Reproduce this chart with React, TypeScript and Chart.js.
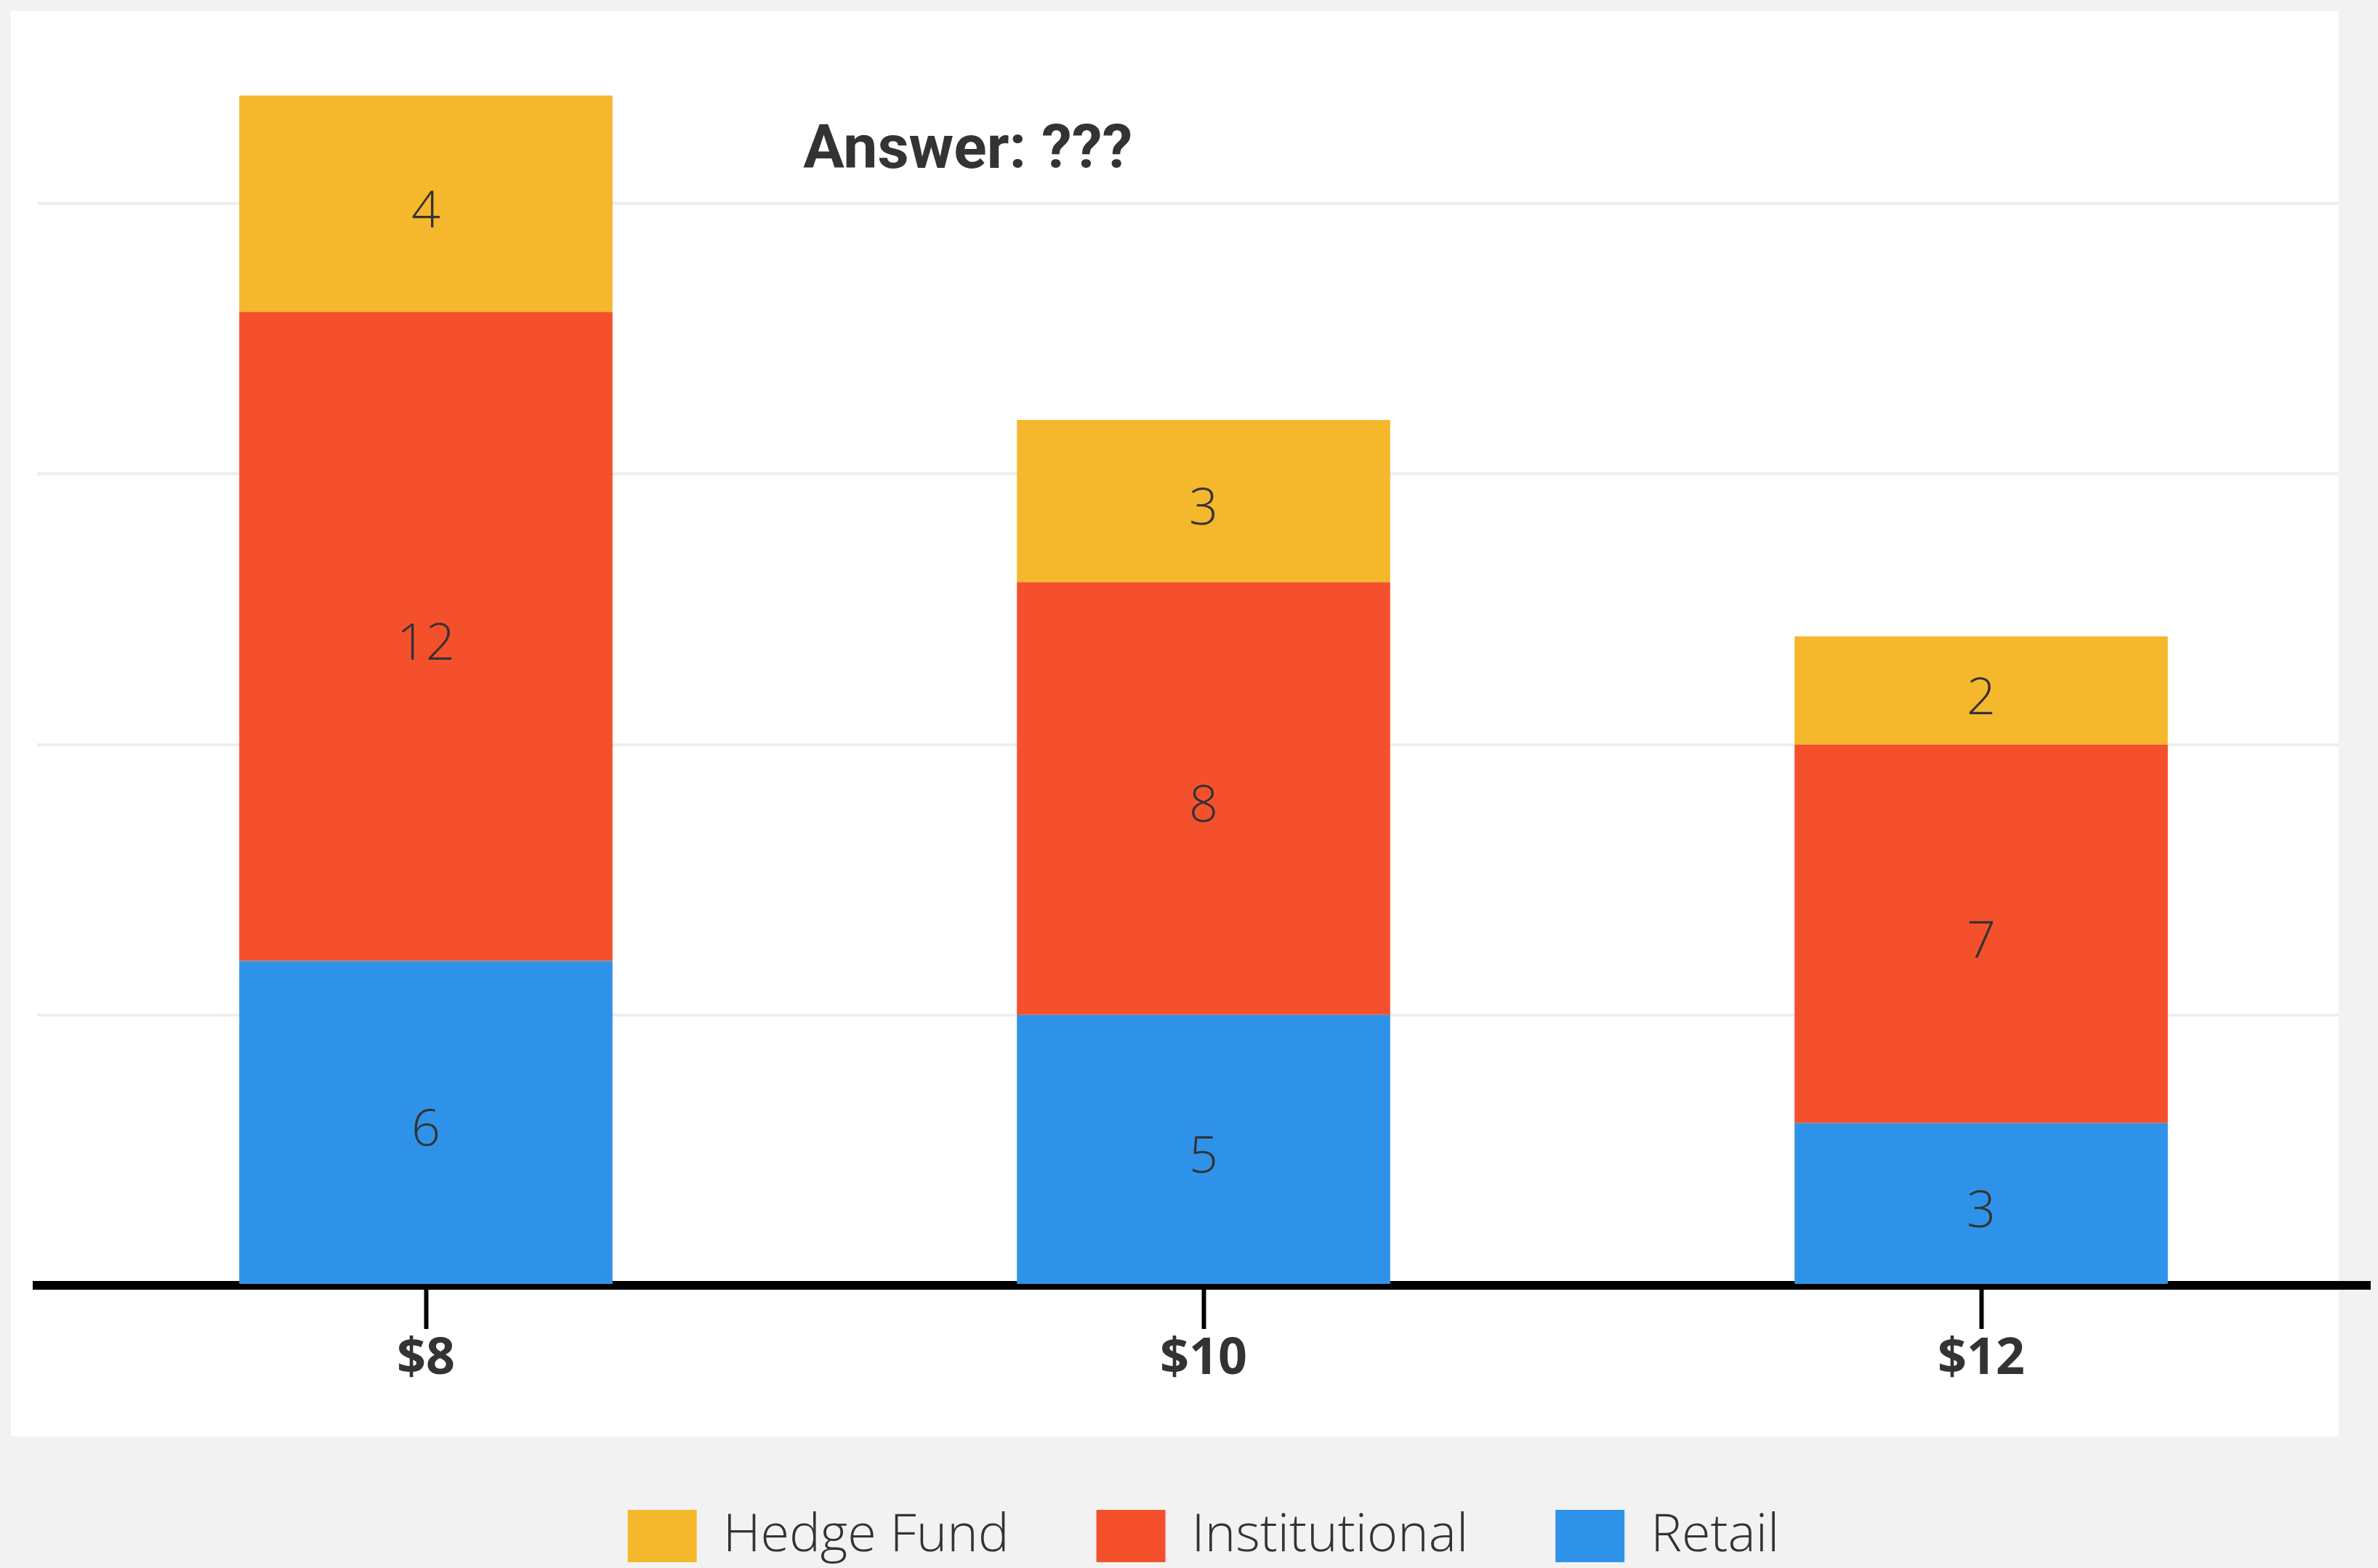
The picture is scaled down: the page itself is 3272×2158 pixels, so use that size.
import React, { useEffect, useRef } from "react";
import { Chart, registerables } from "chart.js";

Chart.register(...registerables);

// ---- data ----
const categories = ["$8", "$10", "$12"];
const retail = [6, 5, 3];
const institutional = [12, 8, 7];
const hedgeFund = [4, 3, 2];
const seriesNames = ["Retail", "Institutional", "Hedge Fund"];
const seriesColors = ["#2E93E8", "#F5502C", "#F5B82C"];
const yTickStep = 5;
const yMax = 23;
const titleText = "Answer: ???";

const W = 3272;
const H = 2160;

const panelPlugin = {
  id: "panel",
  beforeDraw(chart: any) {
    const ctx = chart.ctx;
    ctx.save();
    ctx.fillStyle = "#f2f2f2";
    ctx.fillRect(0, 0, chart.width, chart.height);
    ctx.fillStyle = "#ffffff";
    ctx.fillRect(15, 15, 3218 - 15, 1977 - 15);
    ctx.restore();
  },
  beforeDatasetsDraw(chart: any) {
    const { ctx, chartArea } = chart;
    ctx.save();
    ctx.fillStyle = "#f2f2f2";
    ctx.fillRect(3218, 0, chart.width - 3218, chartArea.bottom - 7);
    ctx.restore();
  },
};

const valueLabelPlugin = {
  id: "valueLabels",
  afterDatasetsDraw(chart: any) {
    const ctx = chart.ctx;
    ctx.save();
    ctx.font = "300 70px 'Open Sans'";
    ctx.fillStyle = "#333333";
    ctx.textAlign = "center";
    ctx.textBaseline = "alphabetic";
    chart.data.datasets.forEach((ds: any, di: number) => {
      const meta = chart.getDatasetMeta(di);
      meta.data.forEach((el: any, i: number) => {
        const txt = String(ds.data[i]);
        const m = ctx.measureText(txt);
        const asc = m.actualBoundingBoxAscent || 50;
        const desc = m.actualBoundingBoxDescent || 0;
        const cy = (el.y + el.base) / 2 + 7;
        ctx.fillText(txt, el.x, cy + (asc - desc) / 2);
      });
    });
    ctx.restore();
  },
};

const titlePlugin = {
  id: "answerTitle",
  afterDraw(chart: any) {
    const { ctx, chartArea } = chart;
    ctx.save();
    ctx.font = "bold 84px Roboto";
    ctx.fillStyle = "#333333";
    ctx.textAlign = "center";
    ctx.textBaseline = "alphabetic";
    ctx.fillText(titleText, chartArea.left + chartArea.width * 0.399, 231);
    ctx.restore();
  },
};

export default function App() {
  const ref = useRef<HTMLCanvasElement | null>(null);

  useEffect(() => {
    document.body.style.margin = "0";
    document.body.style.background = "#f2f2f2";
    document.body.style.overflow = "hidden";
    const canvas = ref.current;
    if (!canvas) return;
    const seriesData = [retail, institutional, hedgeFund];
    const chart = new Chart(canvas, {
      type: "bar",
      data: {
        labels: categories,
        datasets: seriesNames.map((name, i) => ({
          label: name,
          data: seriesData[i],
          backgroundColor: seriesColors[i],
          borderWidth: 0,
          barPercentage: 0.48,
          categoryPercentage: 1,
        })),
      },
      options: {
        responsive: false,
        animation: false,
        devicePixelRatio: 1,
        layout: { padding: { top: 57, left: 51, right: 11, bottom: 0 } },
        plugins: {
          legend: {
            position: "bottom",
            reverse: true,
            labels: {
              boxWidth: 95,
              boxHeight: 72,
              padding: 120,
              color: "#333333",
              font: { family: "'Open Sans'", size: 72, weight: "300" },
            },
          },
          tooltip: { enabled: false },
          title: { display: false },
        },
        scales: {
          x: {
            stacked: true,
            offset: true,
            grid: {
              display: true,
              drawOnChartArea: false,
              drawTicks: true,
              tickLength: 60,
              tickWidth: 6,
              tickColor: "#000000",
              offset: false,
            },
            border: { display: true, color: "#000000", width: 12 },
            ticks: {
              color: "#333333",
              font: { family: "'Open Sans'", size: 70, weight: "bold", lineHeight: 1.2 },
              padding: 0,
              maxRotation: 0,
              autoSkip: false,
            },
            title: {
              display: true,
              text: "",
              font: { size: 40, lineHeight: 1 },
              padding: { top: 3, bottom: 2 },
            },
          },
          y: {
            stacked: true,
            min: 0,
            max: yMax,
            grid: { color: "#eeeeee", lineWidth: 4, drawTicks: false },
            border: { display: false },
            ticks: { display: false, stepSize: yTickStep, includeBounds: false },
          },
        },
      },
      plugins: [panelPlugin, valueLabelPlugin, titlePlugin],
    } as any);
    if ((document as any).fonts && (document as any).fonts.ready) {
      (document as any).fonts.ready.then(() => chart.update());
    }
    return () => chart.destroy();
  }, []);

  return (
    <canvas
      ref={ref}
      width={W}
      height={H}
      style={{ display: "block", width: W + "px", height: H + "px" }}
    />
  );
}
